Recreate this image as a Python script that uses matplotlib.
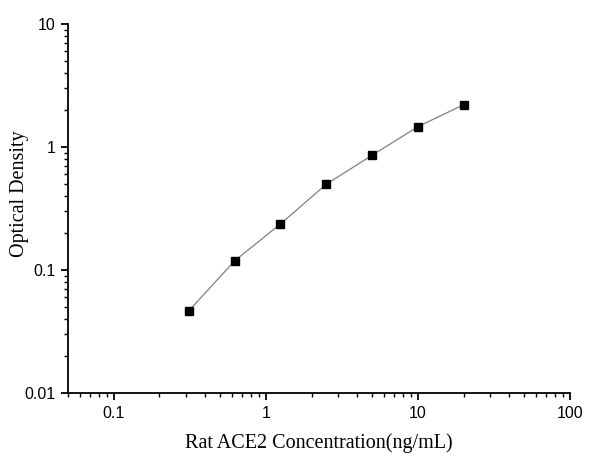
import numpy as np
import matplotlib
matplotlib.use('Agg')
import matplotlib.pyplot as plt
from matplotlib.ticker import LogLocator, FixedLocator, FixedFormatter, NullFormatter

# standard curve data
conc = [0.3125, 0.625, 1.25, 2.5, 5, 10, 20]
od = [0.0467, 0.119, 0.237, 0.499, 0.857, 1.465, 2.21]

x_ticks = [0.1, 1, 10, 100]
x_labels = ['0.1', '1', '10', '100']
y_ticks = [0.01, 0.1, 1, 10]
y_labels = ['0.01', '0.1', '1', '10']

plt.rcParams['font.family'] = ['Liberation Sans', 'DejaVu Sans']
plt.rcParams['font.size'] = 11.5

W, H = 600, 463
fig = plt.figure(figsize=(W / 100, H / 100), dpi=100)
ax = fig.add_axes([0.113, 0.151, 0.837, 0.797])

ax.plot(conc, od, color='#808080', lw=0.9, marker='s', ms=6,
        mfc='black', mec='black', zorder=3)

ax.set_xscale('log')
ax.set_yscale('log')
ax.set_xlim(0.05, 100)
ax.set_ylim(0.01, 10)

ax.xaxis.set_major_locator(FixedLocator(x_ticks))
ax.xaxis.set_major_formatter(FixedFormatter(x_labels))
ax.yaxis.set_major_locator(FixedLocator(y_ticks))
ax.yaxis.set_major_formatter(FixedFormatter(y_labels))
ax.xaxis.set_minor_locator(LogLocator(base=10, subs=np.arange(2, 10)))
ax.yaxis.set_minor_locator(LogLocator(base=10, subs=np.arange(2, 10)))
ax.xaxis.set_minor_formatter(NullFormatter())
ax.yaxis.set_minor_formatter(NullFormatter())

for s in ['top', 'right']:
    ax.spines[s].set_visible(False)
for s in ['left', 'bottom']:
    ax.spines[s].set_linewidth(1.3)

ax.tick_params(which='major', direction='out', length=5, width=1.3,
               labelsize=11.5, pad=4)
ax.tick_params(which='minor', direction='out', length=3, width=1.0)

# axis titles placed in pixel terms to match the reference
fig.text(319 / W, 1 - 443 / H, 'Rat ACE2 Concentration(ng/mL)',
         family='Liberation Serif', fontsize=14.5, ha='center', va='center')
fig.text(20 / W, 1 - 194 / H, 'Optical Density', family='Liberation Serif',
         fontsize=14.5, ha='center', va='center', rotation=90)

fig.savefig('out.png', dpi=100)
